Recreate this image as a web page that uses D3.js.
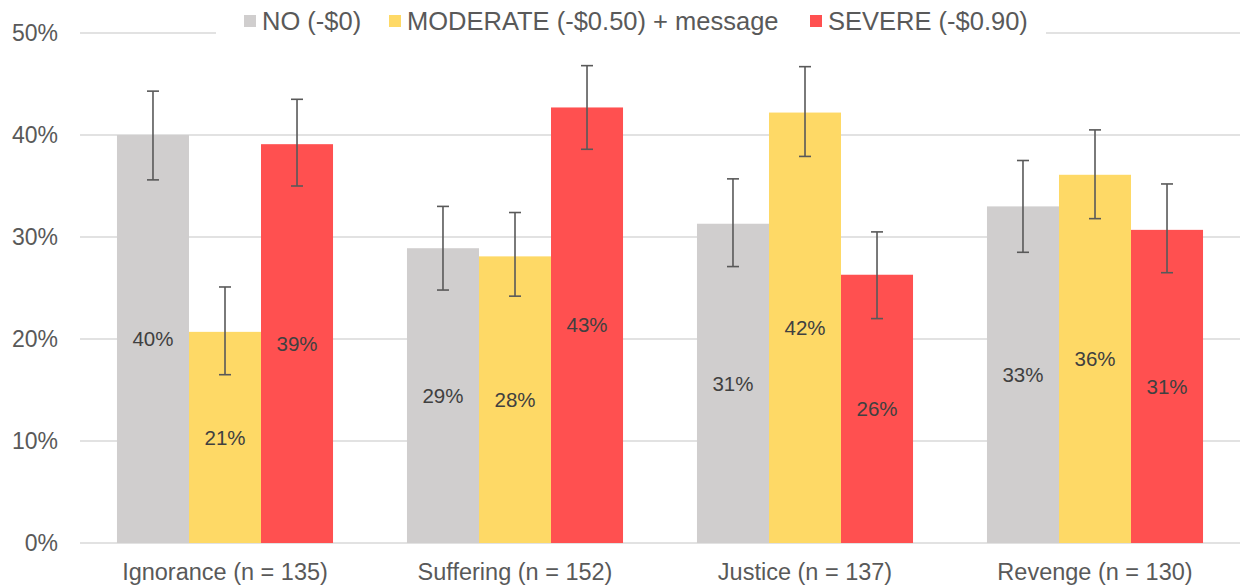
<!DOCTYPE html>
<html>
<head>
<meta charset="utf-8">
<script src="https://cdn.jsdelivr.net/npm/d3@7"></script>
<style>
  body { margin: 0; background: #fff; }
  text { font-family: "Liberation Sans", Arial, sans-serif; }
</style>
</head>
<body>
<svg width="1244" height="588"></svg>
<script>
// chart data
var categories = ["Ignorance (n = 135)", "Suffering (n = 152)", "Justice (n = 137)", "Revenge (n = 130)"];
var series = ["NO (-$0)", "MODERATE (-$0.50) + message", "SEVERE (-$0.90)"];
var colors = ["#d0cece", "#fed966", "#ff5050"];
var values = [
  [40.0, 28.9, 31.3, 33.0],
  [20.7, 28.1, 42.2, 36.1],
  [39.1, 42.7, 26.3, 30.7]
];
var errLow = [
  [35.6, 24.8, 27.1, 28.5],
  [16.5, 24.2, 37.9, 31.8],
  [35.0, 38.6, 22.0, 26.5]
];
var errHigh = [
  [44.3, 33.0, 35.7, 37.5],
  [25.1, 32.4, 46.7, 40.5],
  [43.5, 46.8, 30.5, 35.2]
];
var yTicks = [0, 10, 20, 30, 40, 50];

var svg = d3.select("svg"),
    width = +svg.attr("width"),
    height = +svg.attr("height");

var x = d3.scaleBand().domain(categories).range([80, 1240])
    .paddingInner(0.255).paddingOuter(0.1275);
var xs = d3.scaleBand().domain(d3.range(series.length)).range([0, x.bandwidth()]);
var y = d3.scaleLinear().domain([0, 50]).range([543, 33]);

// gridlines
svg.append("g")
  .selectAll("line")
  .data(yTicks)
  .enter().append("line")
    .attr("x1", 80).attr("x2", 1240)
    .attr("y1", function(d) { return y(d); })
    .attr("y2", function(d) { return y(d); })
    .attr("stroke", "#d9d9d9")
    .attr("stroke-width", 1.5);

// y axis labels
var yAxis = d3.axisLeft(y).tickValues(yTicks).tickSize(0).tickPadding(0)
    .tickFormat(function(d) { return d + "%"; });
svg.append("g")
  .attr("transform", "translate(58,0)")
  .call(yAxis)
  .call(function(g) { g.select(".domain").remove(); })
  .selectAll("text")
    .attr("font-size", 23)
    .attr("fill", "#595959")
    .attr("font-family", "Liberation Sans, Arial, sans-serif");

// x axis labels
var xAxis = d3.axisBottom(x).tickSize(0).tickPadding(0);
svg.append("g")
  .attr("transform", "translate(0,563)")
  .call(xAxis)
  .call(function(g) { g.select(".domain").remove(); })
  .selectAll("text")
    .attr("font-size", 23.5)
    .attr("fill", "#595959")
    .attr("font-family", "Liberation Sans, Arial, sans-serif");

// bars
var rows = [];
series.forEach(function(s, i) {
  categories.forEach(function(c, j) {
    rows.push({ s: i, c: c, v: values[i][j], lo: errLow[i][j], hi: errHigh[i][j] });
  });
});

var bars = svg.append("g").selectAll("g")
  .data(rows)
  .enter().append("g")
    .attr("transform", function(d) { return "translate(" + (x(d.c) + xs(d.s)) + ",0)"; });

bars.append("rect")
  .attr("x", 0)
  .attr("width", xs.bandwidth())
  .attr("y", function(d) { return y(d.v); })
  .attr("height", function(d) { return y(0) - y(d.v); })
  .attr("fill", function(d) { return colors[d.s]; });

bars.append("text")
  .attr("x", xs.bandwidth() / 2)
  .attr("y", function(d) { return (y(0) + y(d.v)) / 2; })
  .attr("dy", "0.35em")
  .attr("text-anchor", "middle")
  .attr("font-size", 20.5)
  .attr("fill", "#404040")
  .text(function(d) { return Math.round(d.v) + "%"; });

// error bars
var cx = xs.bandwidth() / 2;
bars.append("line")
  .attr("x1", cx).attr("x2", cx)
  .attr("y1", function(d) { return y(d.lo); })
  .attr("y2", function(d) { return y(d.hi); })
  .attr("stroke", "#595959").attr("stroke-width", 1.6);
bars.append("line")
  .attr("x1", cx - 6).attr("x2", cx + 6)
  .attr("y1", function(d) { return y(d.hi); })
  .attr("y2", function(d) { return y(d.hi); })
  .attr("stroke", "#595959").attr("stroke-width", 1.6);
bars.append("line")
  .attr("x1", cx - 6).attr("x2", cx + 6)
  .attr("y1", function(d) { return y(d.lo); })
  .attr("y2", function(d) { return y(d.lo); })
  .attr("stroke", "#595959").attr("stroke-width", 1.6);

// legend (covers the top gridline)
svg.append("rect")
  .attr("x", 216).attr("y", 4).attr("width", 830).attr("height", 36)
  .attr("fill", "#fff");

var legendX = [244, 389, 810];
var legend = svg.append("g").selectAll("g")
  .data(series)
  .enter().append("g")
    .attr("transform", function(d, i) { return "translate(" + legendX[i] + ",0)"; });
legend.append("rect")
  .attr("x", 0).attr("y", 15).attr("width", 12).attr("height", 12)
  .attr("fill", function(d, i) { return colors[i]; });
legend.append("text")
  .attr("x", 18).attr("y", 21)
  .attr("dy", "0.35em")
  .attr("font-size", 25.5)
  .attr("fill", "#595959")
  .text(function(d) { return d; });
</script>
</body>
</html>
